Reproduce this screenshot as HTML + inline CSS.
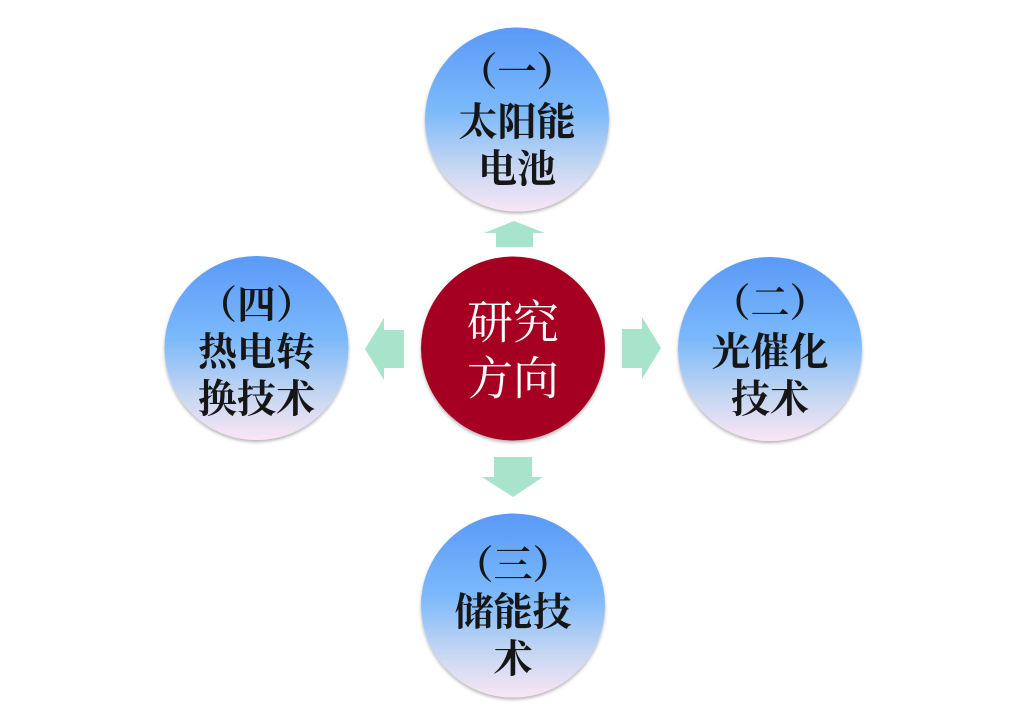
<!DOCTYPE html>
<html>
<head>
<meta charset="utf-8">
<style>
html,body{margin:0;padding:0;background:#fff;}
body{width:1026px;height:706px;overflow:hidden;}
svg{display:block;}
.t{font-family:"Liberation Serif","Noto Serif CJK SC",serif;font-weight:bold;font-size:39px;fill:#161616;}
.c{font-family:"Liberation Serif","Noto Serif CJK SC",serif;font-weight:normal;font-size:46px;fill:#ffffff;}
</style>
</head>
<body>
<svg width="1026" height="706" viewBox="0 0 1026 706" xmlns="http://www.w3.org/2000/svg">
<defs>
<linearGradient id="g" x1="0" y1="0" x2="0" y2="1">
<stop offset="0" stop-color="#5a9af8"/>
<stop offset="0.45" stop-color="#7cb9fa"/>
<stop offset="0.75" stop-color="#c4d6f2"/>
<stop offset="1" stop-color="#fae6f5"/>
</linearGradient>
<filter id="s" x="-20%" y="-20%" width="140%" height="140%">
<feDropShadow dx="0" dy="2" stdDeviation="1.5" flood-color="#000" flood-opacity="0.3"/>
</filter>
</defs>

<g fill="#a8e3cb">
<polygon points="496,247 533,247 533,233 545,233 514,221 484,233 496,233"/>
<polygon points="404,330 404,368 384,368 384,380 365,349 384,318 384,330"/>
<polygon points="622,329 622,368 642,368 642,379 661,348 642,317 642,329"/>
<polygon points="494,457 532,457 532,477 543,477 513,497 482,477 494,477"/>
</g>

<g filter="url(#s)">
<circle cx="517" cy="119.5" r="92" fill="url(#g)"/>
<circle cx="256.5" cy="348" r="92" fill="url(#g)"/>
<circle cx="770" cy="349" r="92" fill="url(#g)"/>
<circle cx="513" cy="605.5" r="92" fill="url(#g)"/>
<circle cx="513" cy="348.5" r="92" fill="#a50021"/>
</g>

<g class="t" text-anchor="middle" dominant-baseline="central">
<text x="517" y="73">（一）</text>
<text x="517" y="123">太阳能</text>
<text x="517" y="170">电池</text>

<text x="256.5" y="306">（四）</text>
<text x="256.5" y="353">热电转</text>
<text x="256.5" y="400">换技术</text>

<text x="770" y="304">（二）</text>
<text x="770" y="353">光催化</text>
<text x="770" y="400">技术</text>

<text x="513" y="566">（三）</text>
<text x="513" y="613">储能技</text>
<text x="513" y="660">术</text>
</g>

<g class="c" text-anchor="middle" dominant-baseline="central">
<text x="513" y="323">研究</text>
<text x="513" y="379">方向</text>
</g>
</svg>
</body>
</html>
